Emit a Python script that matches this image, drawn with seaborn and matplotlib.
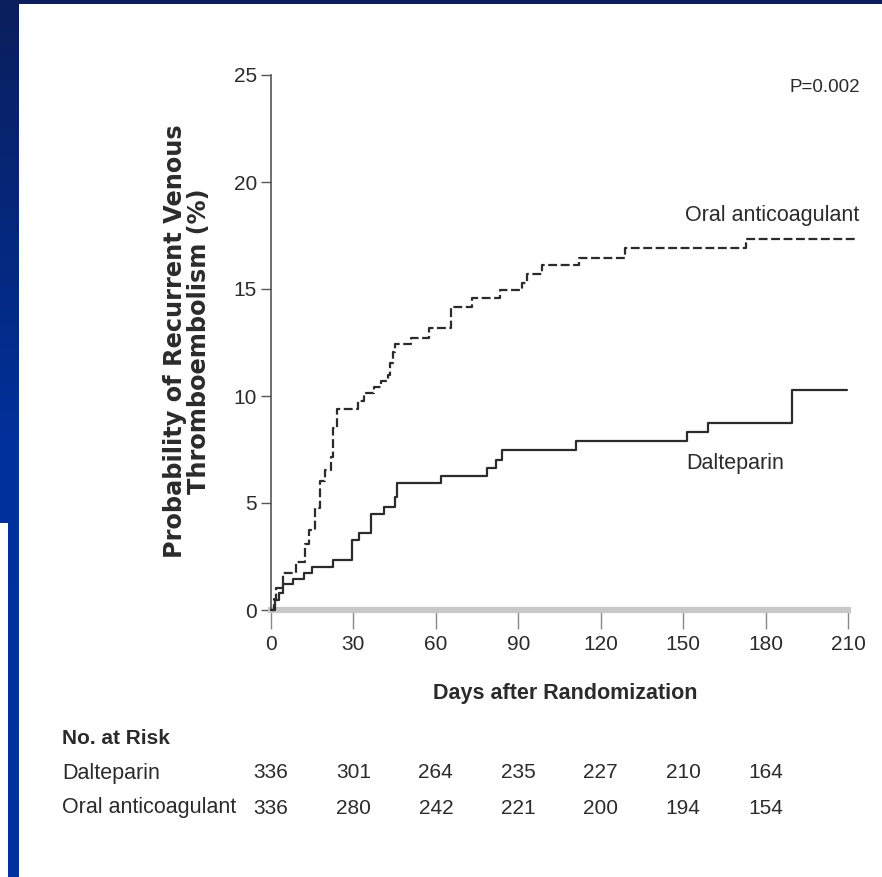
#%%
import numpy as np
import pandas as pd
import seaborn as sns
import matplotlib.pyplot as plt
from matplotlib import font_manager
from matplotlib.patches import Rectangle
from matplotlib.colors import LinearSegmentedColormap

#%% data (days, cumulative %)
dalt_days = [0, 1.5, 3, 4.5, 8, 12, 15, 22.5, 29.5, 32, 36.5, 41, 45, 46, 62, 78.5, 82, 84,
             111, 151.5, 159, 189.5, 209.5]
dalt_pct = [0, 0.45, 0.8, 1.2, 1.45, 1.75, 2.0, 2.35, 3.25, 3.6, 4.5, 4.8, 5.3, 5.95, 6.25, 6.65,
            7.0, 7.5, 7.9, 8.3, 8.75, 10.3, 10.3]

oral_days = [0, 1, 2, 4.5, 9, 12.5, 14, 16, 18, 19.5, 22, 22.6, 24, 31.5, 34, 37.5, 40, 42.5,
             43.3, 44.4, 45, 51, 57.5, 65.5, 73, 83.5, 91.5, 93, 98.5, 112, 129, 173, 213]
oral_pct = [0, 0.5, 1.05, 1.75, 2.25, 3.1, 3.75, 4.75, 6.05, 6.55, 7.15, 8.5, 9.4, 9.75, 10.15,
            10.4, 10.7, 11.0, 11.55, 12.05, 12.45, 12.7, 13.2, 14.15, 14.6, 14.95, 15.3, 15.7,
            16.1, 16.45, 16.9, 17.35, 17.35]

risk_days = [0, 30, 60, 90, 120, 150, 180]
risk_dalt = [336, 301, 264, 235, 227, 210, 164]
risk_oral = [336, 280, 242, 221, 200, 194, 154]
x_ticks = [0, 30, 60, 90, 120, 150, 180, 210]
y_ticks = [0, 5, 10, 15, 20, 25]

#%% setup
sns.set_style("white")
names = {f.name for f in font_manager.fontManager.ttflist}
narrow = 'Liberation Sans Narrow' if 'Liberation Sans Narrow' in names else 'Liberation Sans'
sc = 1.2 if narrow == 'Liberation Sans Narrow' else 1.0
plt.rcParams['font.family'] = [narrow, 'DejaVu Sans']
ink = '#2b2b2b'
W, H = 882, 877

fig = plt.figure(figsize=(W / 100, H / 100), dpi=100)
fig.patch.set_facecolor('white')

# blue slide frame
grad = np.linspace(0, 1, 256).reshape(-1, 1)
cmap = LinearSegmentedColormap.from_list('frame', ['#0a1f5c', '#00309a', '#0033a0'])
bax = fig.add_axes([0, 0, 19 / W, 1])
bax.imshow(grad, aspect='auto', cmap=cmap, extent=[0, 1, 0, 1], origin='upper')
bax.add_patch(Rectangle((0, 0), 8 / 19, (H - 523) / H, color='white', lw=0))
bax.set_axis_off()
tax = fig.add_axes([0, 1 - 4 / H, 1, 4 / H])
tax.set_facecolor('#0a1f5c')
tax.set_xticks([]); tax.set_yticks([])
for s in tax.spines.values():
    s.set_visible(False)

#%% plot curves
ax = fig.add_axes([271 / W, 267 / H, 577 / W, 535 / H])
sns.lineplot(x=dalt_days, y=dalt_pct, ax=ax, drawstyle='steps-post', estimator=None, sort=False,
             color=ink, lw=1.6, clip_on=False, zorder=3)
sns.lineplot(x=oral_days, y=oral_pct, ax=ax, drawstyle='steps-post', estimator=None, sort=False,
             color=ink, lw=1.6, linestyle=(0, (4, 1.6)), clip_on=False, zorder=3)
ax.set_xlim(0, 210)
ax.set_ylim(0, 25)
ax.set_xticks(x_ticks)
ax.set_yticks(y_ticks)
ax.set_xticklabels([str(v) for v in x_ticks], fontsize=15 * sc, color=ink)
ax.set_yticklabels([str(v) for v in y_ticks], fontsize=15 * sc, color=ink)
ax.tick_params(axis='y', left=True, direction='out', length=7, width=1, color='#555555', pad=3)
ax.tick_params(axis='x', bottom=True, direction='out', length=14, width=1, color='#888888', pad=4)
ax.spines['top'].set_visible(False)
ax.spines['right'].set_visible(False)
ax.spines['left'].set_color('#555555')
ax.spines['left'].set_linewidth(1.2)
ax.spines['bottom'].set_color('#c8c8c8')
ax.spines['bottom'].set_linewidth(4.5)
ax.spines['bottom'].set_zorder(1)

#%% labels
fig.text(187 / W, 1 - 341 / H, 'Probability of Recurrent Venous\nThromboembolism (%)',
         rotation=90, ha='center', va='center', multialignment='center', fontsize=17.3,
         fontweight='bold', family='DejaVu Sans', color=ink, linespacing=1.0)
fig.text(565 / W, 1 - 693 / H, 'Days after Randomization', ha='center', va='center',
         fontsize=15.5 * sc, fontweight='bold', color=ink)
fig.text(860 / W, 1 - 88 / H, 'P=0.002', ha='right', va='center', fontsize=13.5 * sc, color=ink)
fig.text(685 / W, 1 - 215 / H, 'Oral anticoagulant', ha='left', va='center',
         fontsize=15.5 * sc, color=ink)
fig.text(686 / W, 1 - 463 / H, 'Dalteparin', ha='left', va='center', fontsize=15.5 * sc, color=ink)

#%% number at risk table
fig.text(62 / W, 1 - 738 / H, 'No. at Risk', ha='left', va='center', fontsize=15 * sc,
         fontweight='bold', color=ink)
for lab, vals, ypix in [('Dalteparin', risk_dalt, 773), ('Oral anticoagulant', risk_oral, 808)]:
    fig.text(62 / W, 1 - ypix / H, lab, ha='left', va='center', fontsize=15.5 * sc, color=ink)
    for d, v in zip(risk_days, vals):
        xf = (271 + d / 210 * 577) / W
        fig.text(xf, 1 - ypix / H, str(v), ha='center', va='center', fontsize=15 * sc, color=ink)

plt.savefig('out.png', dpi=100)
